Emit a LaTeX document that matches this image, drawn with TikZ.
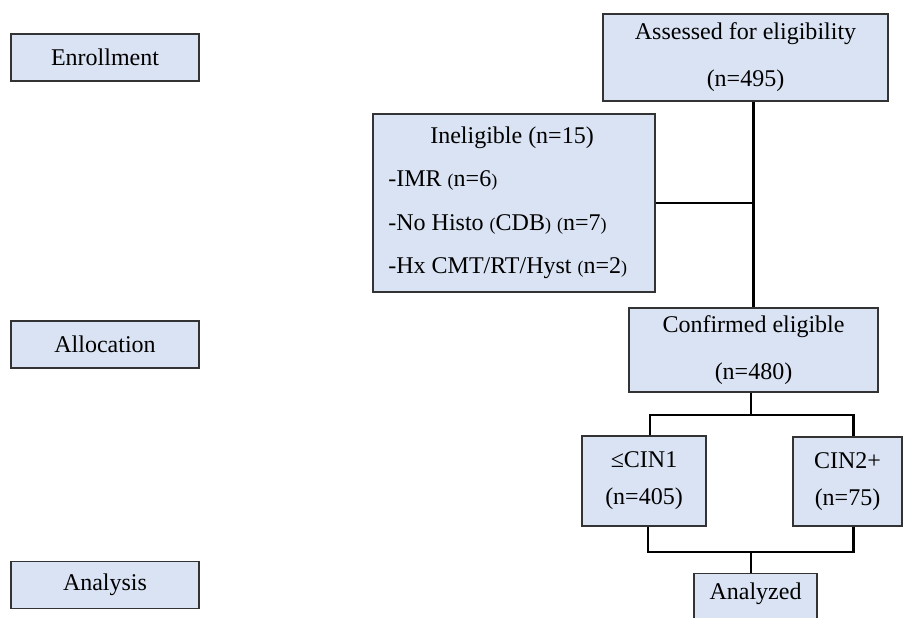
\documentclass[tikz,border=0pt]{standalone}
\usepackage{fontspec}
\setmainfont{Liberation Serif}
\definecolor{boxblue}{HTML}{DAE3F3}
\newcommand{\smlp}{{\fontsize{9}{11}\selectfont(}}
\newcommand{\smrp}{{\fontsize{9}{11}\selectfont)}}

\begin{document}
\begin{tikzpicture}[x=0.5pt, y=-0.5pt, every node/.style={inner sep=0pt, font=\fontsize{12}{14}\selectfont},
    box/.style={draw=black!80, line width=0.7pt, fill=boxblue, align=center},
    link/.style={line width=1.4pt}]
      \clip (0,0) rectangle (903,617);

      % stages on the left
      \node[box, minimum width=94pt, minimum height=23.5pt] (enroll) at (105,57.5) {Enrollment};
      \node[box, minimum width=94pt, minimum height=23.5pt] (alloc) at (105,344.5) {Allocation};
      \node[box, minimum width=94pt, minimum height=23.5pt] (analysis) at (105,585) {Analysis};

      % flow
      \node[box, minimum width=142.5pt, minimum height=43.5pt] (assess) at (745.5,57.5) {Assessed for eligibility\\[9.5pt](n=495)};
      \node[box, minimum width=141pt, minimum height=89pt] (inelig) at (514,203) {};
      \node[anchor=base] (ineltitle) at (512,143) {Ineligible (n=15)};
      \node[anchor=base west] (inelimr) at (388,186) {-IMR \smlp n=6\smrp};
      \node[anchor=base west] (inelhisto) at (388,230) {-No Histo \smlp CDB\smrp\ \smlp n=7\smrp};
      \node[anchor=base west] (inelhx) at (388,273) {-Hx CMT/RT/Hyst \smlp n=2\smrp};
      \node[box, minimum width=124.5pt, minimum height=42pt] (confirm) at (753.5,350) {Confirmed eligible\\[9.5pt](n=480)};
      \node[box, minimum width=62pt, minimum height=45pt] (cinlow) at (644,481) {≤CIN1\\[4.5pt](n=405)};
      \node[box, minimum width=54.5pt, minimum height=44.5pt] (cinhigh) at (847.5,481.5) {CIN2+\\[4.5pt](n=75)};
      \node[box, minimum width=61.5pt, minimum height=30pt, anchor=north] (analyzed) at (755.5,573) {\raisebox{0pt}[0pt][0pt]{\raisebox{2pt}{Analyzed}}};

      \coordinate (split) at (751,415);
      \coordinate (join) at (751,552);

      \draw[link] (confirm.north |- assess.south) -- (confirm.north);
      \draw[link] (inelig.east) -- (inelig.east -| confirm.north);
      \draw[link] (confirm.south -| split) -- (split);
      \draw[link] ([xshift=3pt]cinlow.north) |- (split) -| ([xshift=3pt]cinhigh.north);
      \draw[link] ([xshift=2pt]cinlow.south) |- (join) -| ([xshift=3pt]cinhigh.south);
      \draw[link] (join) -- (analyzed.north -| join);
    \end{tikzpicture}
\end{document}
